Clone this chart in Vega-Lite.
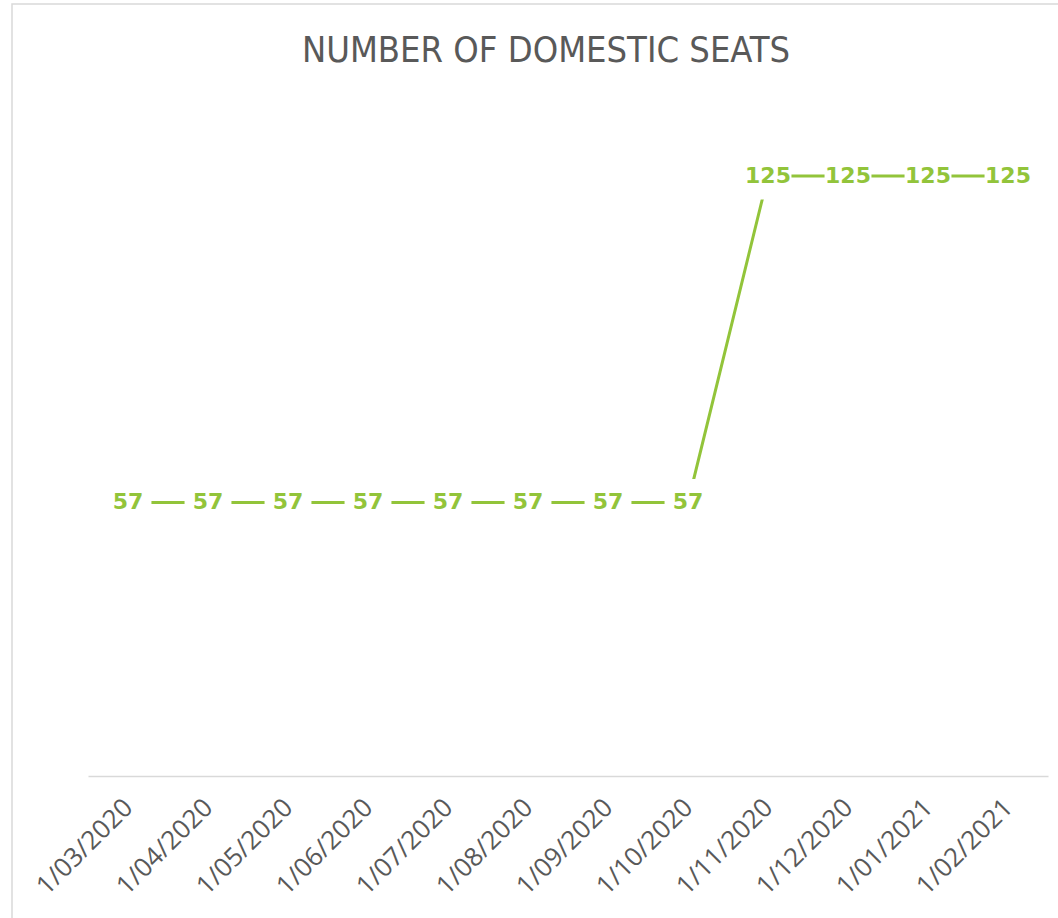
{
  "$schema": "https://vega.github.io/schema/vega-lite/v6.json",
  "autosize": {"type": "none"},
  "padding": {"left": 12, "top": 4, "right": -2, "bottom": -2},
  "width": 1048,
  "height": 916,
  "background": "white",
  "title": {
    "text": "NUMBER OF DOMESTIC SEATS",
    "font": "DejaVu Sans Condensed, sans-serif",
    "fontSize": 36,
    "fontWeight": "normal",
    "color": "#595959",
    "anchor": "middle",
    "frame": "group",
    "baseline": "alphabetic",
    "offset": -94,
    "dx": 10
  },
  "config": {
    "view": {"stroke": "#d9d9d9", "strokeWidth": 1.5}
  },
  "data": {
    "values": [
      {"date": "1/03/2020", "seats": 57},
      {"date": "1/04/2020", "seats": 57},
      {"date": "1/05/2020", "seats": 57},
      {"date": "1/06/2020", "seats": 57},
      {"date": "1/07/2020", "seats": 57},
      {"date": "1/08/2020", "seats": 57},
      {"date": "1/09/2020", "seats": 57},
      {"date": "1/10/2020", "seats": 57},
      {"date": "1/11/2020", "seats": 125},
      {"date": "1/12/2020", "seats": 125},
      {"date": "1/01/2021", "seats": 125},
      {"date": "1/02/2021", "seats": 125}
    ]
  },
  "encoding": {
    "x": {
      "field": "date",
      "type": "nominal",
      "sort": null,
      "scale": {"type": "point", "range": [76, 1036], "padding": 0.5},
      "axis": {
        "title": null,
        "orient": "bottom",
        "offset": -144,
        "labelAngle": -45,
        "labelAlign": "right",
        "labelBaseline": "middle",
        "labelFont": "Open Sans",
        "labelFontSize": 26,
        "labelColor": "#595959",
        "labelPadding": 27,
        "ticks": false,
        "domainColor": "#d9d9d9",
        "domainWidth": 1.5,
        "grid": false
      }
    },
    "y": {
      "field": "seats",
      "type": "quantitative",
      "scale": {"domain": [0, 140], "range": [772, 100], "nice": false, "zero": true},
      "axis": null
    }
  },
  "layer": [
    {"mark": {"type": "line", "color": "#92c43a", "strokeWidth": 3}},
    {"mark": {"type": "point", "shape": "square", "filled": true, "color": "white", "opacity": 1, "size": 2200, "strokeWidth": 0}},
    {
      "mark": {"type": "text", "font": "DejaVu Sans", "fontWeight": "bold", "fontSize": 22, "color": "#92c43a", "baseline": "middle", "align": "center"},
      "encoding": {"text": {"field": "seats", "type": "quantitative"}}
    }
  ]
}
